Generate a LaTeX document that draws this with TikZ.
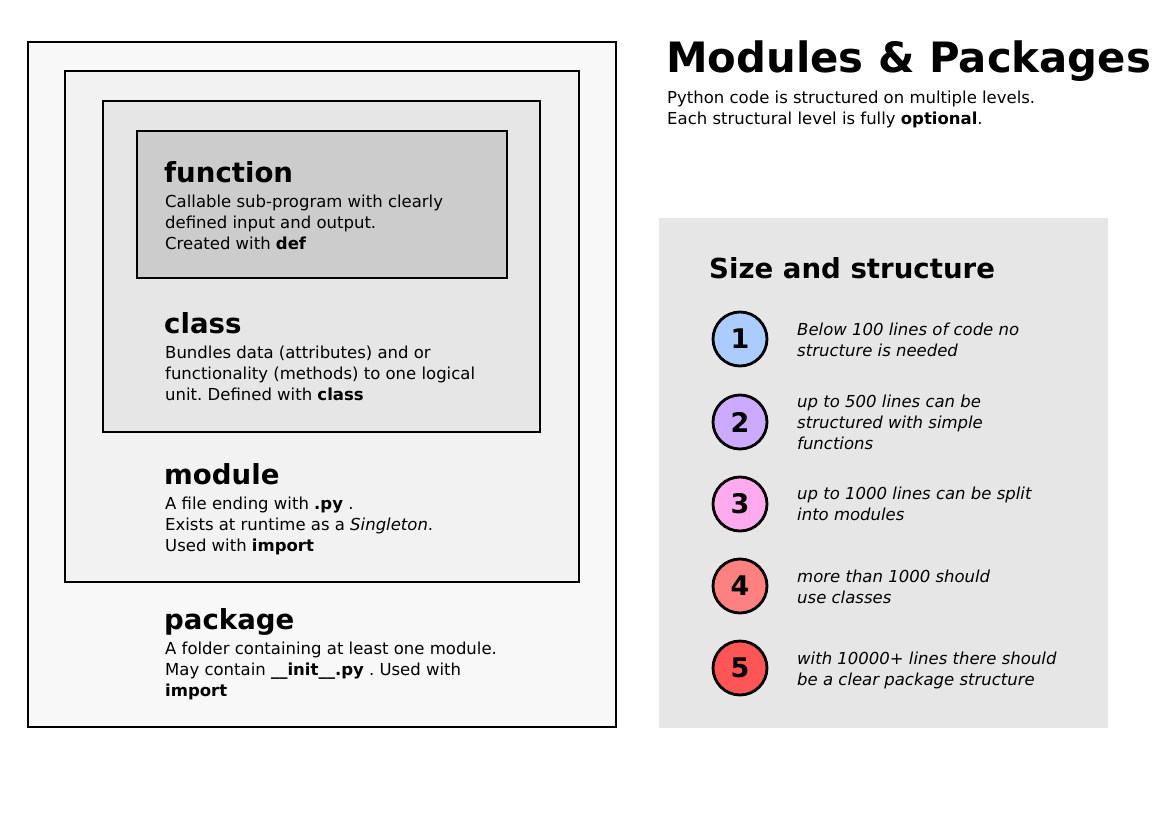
\documentclass[tikz,border=0pt]{standalone}
\usepackage{fontspec}
\setmainfont{DejaVu Sans}
\frenchspacing
\definecolor{lvlA}{HTML}{F8F8F8}
\definecolor{lvlB}{HTML}{F2F2F2}
\definecolor{lvlC}{HTML}{E6E6E6}
\definecolor{lvlD}{HTML}{CCCCCC}
\definecolor{numA}{HTML}{AACCFF}
\definecolor{numB}{HTML}{CCAAFF}
\definecolor{numC}{HTML}{FFAAEE}
\definecolor{numD}{HTML}{FF8080}
\definecolor{numE}{HTML}{FF5555}
\begin{document}
\begin{tikzpicture}[x=1pt, y=-1pt,
  box/.style={draw=black, line width=2pt},
  head/.style={anchor=base west, inner sep=0pt, font=\fontsize{27.6}{30}\selectfont\bfseries},
  body/.style={anchor=base west, inner sep=0pt, align=left, font=\fontsize{16.5}{21}\selectfont},
  note/.style={body, font=\fontsize{16.5}{21}\selectfont\itshape},
  num/.style={circle, draw=black, line width=2.8pt, minimum size=54pt, inner sep=0pt,
    font=\fontsize{27}{30}\selectfont\bfseries}]
  \useasboundingbox[fill=white] (0,0) rectangle (1170,827);
  % Nested levels (body nodes sit on their last baseline)
  \draw[box, fill=lvlA] (28,42) rectangle (616,727);
  \draw[box, fill=lvlB] (65,71) rectangle (579,582);
  \draw[box, fill=lvlC] (103,101) rectangle (540,432);
  \draw[box, fill=lvlD] (137,131) rectangle (507,278);
  \node[head] (funchead) at (164,182) {function};
  \node[body] (functext) at (165,249) {Callable sub-program with clearly\\defined input and output.\\Created with \textbf{def}};
  \node[head] (classhead) at (164,333) {class};
  \node[body] (classtext) at (165,400) {Bundles data (attributes) and or\\functionality (methods) to one logical\\unit. Defined with \textbf{class}};
  \node[head] (modhead) at (164,484) {module};
  \node[body] (modtext) at (165,551) {A file ending with \textbf{.py} .\\Exists at runtime as a \textit{Singleton}.\\Used with \textbf{import}};
  \node[head] (pkghead) at (164,629) {package};
  \node[body] (pkgtext) at (165,696) {A folder containing at least one module.\\May contain \textbf{\_\_init\_\_.py} . Used with\\\textbf{import}};
  % Title
  \node[anchor=base west, inner sep=0pt, font=\fontsize{41.8}{46}\selectfont\bfseries] (title) at (666,72) {Modules \& Packages};
  \node[body] (subtitle) at (667,124) {Python code is structured on multiple levels.\\Each structural level is fully \textbf{optional}.};
  % Size panel
  \fill[lvlC] (659,218) rectangle (1108,728);
  \node[head] (sizehead) at (709,278) {Size and structure};
  \node[num, fill=numA] (n1) at (740,339) {1};
  \node[num, fill=numB] (n2) at (740,422) {2};
  \node[num, fill=numC] (n3) at (740,504) {3};
  \node[num, fill=numD] (n4) at (740,586) {4};
  \node[num, fill=numE] (n5) at (740,668) {5};
  \node[note] (t1) at (797,356) {Below 100 lines of code no\\structure is needed};
  \node[note] (t2) at (797,449) {up to 500 lines can be\\structured with simple\\functions};
  \node[note] (t3) at (797,520) {up to 1000 lines can be split\\into modules};
  \node[note] (t4) at (797,603) {more than 1000 should\\use classes};
  \node[note] (t5) at (797,685) {with 10000+ lines there should\\be a clear package structure};
\end{tikzpicture}
\end{document}
